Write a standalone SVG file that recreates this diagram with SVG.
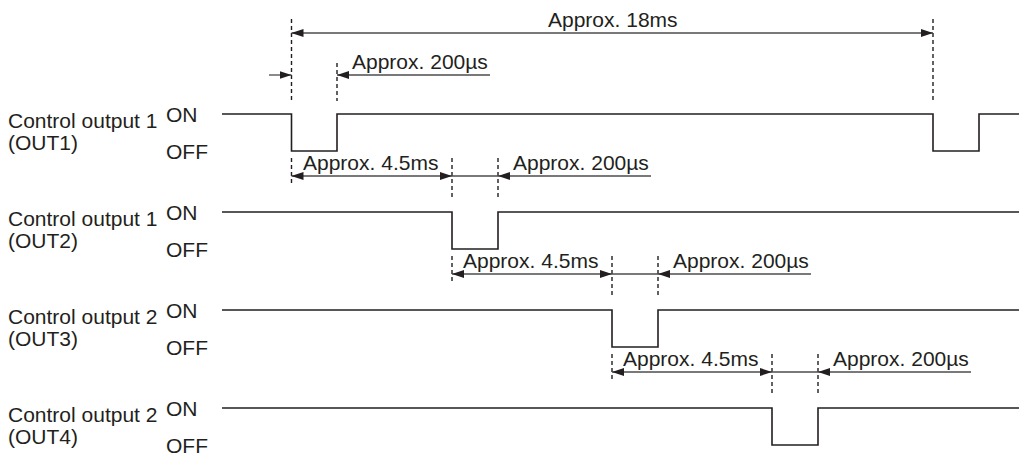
<svg xmlns="http://www.w3.org/2000/svg" width="1019" height="456" viewBox="0 0 1019 456">
<style>
text{font-family:"Liberation Sans",Arial,sans-serif;font-size:21px;fill:#231f20}
.sig{fill:none;stroke:#231f20;stroke-width:1.6}
.dim{fill:none;stroke:#4d4d4d;stroke-width:1.3}
.dash{fill:none;stroke:#231f20;stroke-width:1.4;stroke-dasharray:4 3}
</style>
<defs>
<marker id="ah" viewBox="0 0 12 8" refX="12" refY="4" markerWidth="12" markerHeight="8" markerUnits="userSpaceOnUse" orient="auto-start-reverse">
<path d="M0,0 L12,4 L0,8 Z" fill="#231f20"/>
</marker>
</defs>
<rect width="1019" height="456" fill="#fff"/>
<g id="labels">
<g id="row1"><text x="8" y="128">Control output 1</text><text x="8" y="150">(OUT1)</text><text x="166" y="122">ON</text><text x="166" y="159">OFF</text></g>
<g id="row2"><text x="8" y="226">Control output 1</text><text x="8" y="248">(OUT2)</text><text x="166" y="220">ON</text><text x="166" y="257">OFF</text></g>
<g id="row3"><text x="8" y="324">Control output 2</text><text x="8" y="346">(OUT3)</text><text x="166" y="318">ON</text><text x="166" y="355">OFF</text></g>
<g id="row4"><text x="8" y="422">Control output 2</text><text x="8" y="444">(OUT4)</text><text x="166" y="416">ON</text><text x="166" y="453">OFF</text></g>
</g>
<g id="signals">
<path class="sig" d="M222,114 H291.5 V151 H337 V114 H933 V151 H979 V114 H1019"/>
<path class="sig" d="M222,212 H452 V249 H498 V212 H1019"/>
<path class="sig" d="M222,310 H612 V347 H658 V310 H1019"/>
<path class="sig" d="M222,408 H772 V445 H818 V408 H1019"/>
</g>
<g id="connectors">
<path class="dash" d="M291.5,19 V101 M337,63 V101 M933,19 V101"/>
<path class="dim" d="M291.5,33 H933" marker-start="url(#ah)" marker-end="url(#ah)"/>
<path class="dim" d="M269,75 H291.5" marker-end="url(#ah)"/>
<path class="dim" d="M490,75 H337" marker-end="url(#ah)"/>
<path class="dash" d="M291.5,158 V185 M452,158 V200 M498,158 V200"/>
<path class="dim" d="M291.5,176 H452" marker-start="url(#ah)" marker-end="url(#ah)"/>
<path class="dim" d="M452,176 H498"/>
<path class="dim" d="M651,176 H498" marker-end="url(#ah)"/>
<path class="dash" d="M452,256 V283 M612,256 V298 M658,256 V298"/>
<path class="dim" d="M452,274 H612" marker-start="url(#ah)" marker-end="url(#ah)"/>
<path class="dim" d="M612,274 H658"/>
<path class="dim" d="M811,274 H658" marker-end="url(#ah)"/>
<path class="dash" d="M612,354 V381 M772,354 V396 M818,354 V396"/>
<path class="dim" d="M612,372 H772" marker-start="url(#ah)" marker-end="url(#ah)"/>
<path class="dim" d="M772,372 H818"/>
<path class="dim" d="M971,372 H818" marker-end="url(#ah)"/>
</g>
<g id="dim-labels">
<text x="548" y="27">Approx. 18ms</text>
<text x="352" y="69">Approx. 200µs</text>
<text x="303" y="170">Approx. 4.5ms</text>
<text x="513" y="170">Approx. 200µs</text>
<text x="463" y="268">Approx. 4.5ms</text>
<text x="673" y="268">Approx. 200µs</text>
<text x="623" y="366">Approx. 4.5ms</text>
<text x="833" y="366">Approx. 200µs</text>
</g>
</svg>
